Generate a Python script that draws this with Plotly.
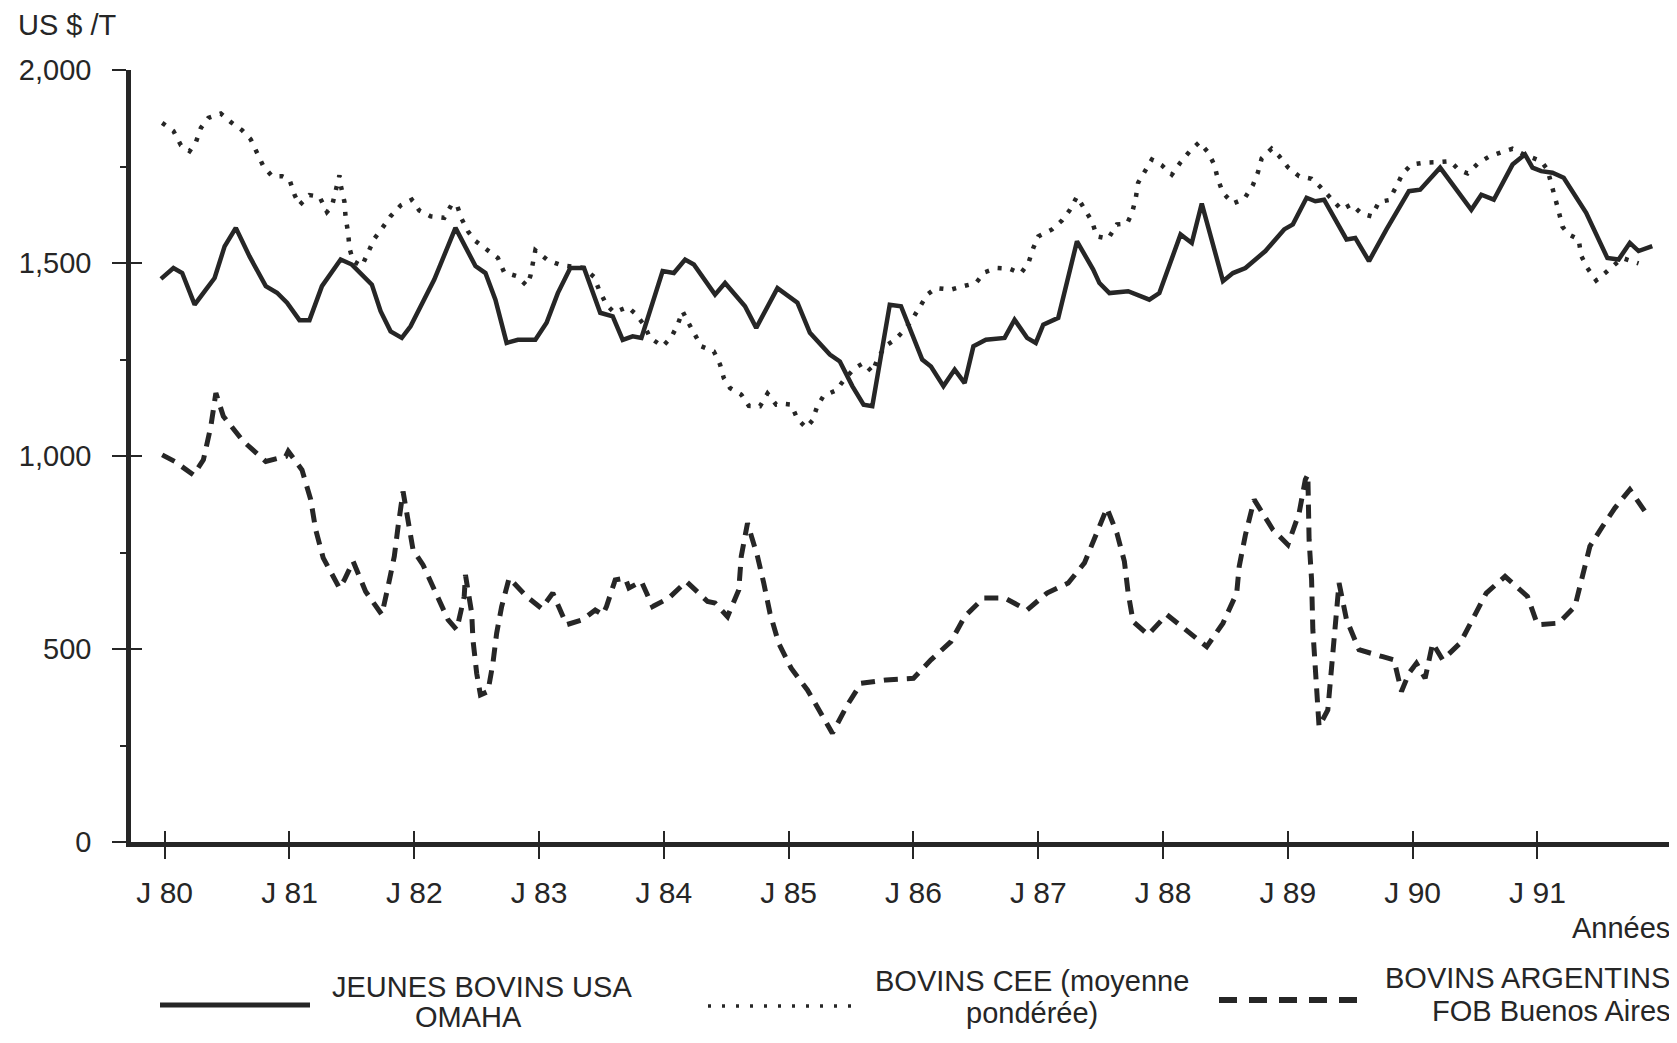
import plotly.graph_objects as go

# Jeunes bovins USA (Omaha) - solid line
usa_years = [79.97, 80.07, 80.14, 80.24, 80.33, 80.40, 80.48, 80.57, 80.68, 80.81, 80.90, 80.98,
             81.08, 81.16, 81.26, 81.41, 81.50, 81.57, 81.66, 81.73, 81.81, 81.90, 81.97, 82.16,
             82.33, 82.49, 82.57, 82.65, 82.74, 82.83, 82.97, 83.06, 83.15, 83.25, 83.36, 83.49,
             83.59, 83.67, 83.75, 83.82, 83.99, 84.08, 84.17, 84.24, 84.41, 84.49, 84.65, 84.74,
             84.91, 85.07, 85.17, 85.33, 85.41, 85.51, 85.60, 85.67, 85.81, 85.90, 86.07, 86.14,
             86.24, 86.33, 86.41, 86.48, 86.58, 86.73, 86.81, 86.91, 86.98, 87.04, 87.16, 87.31,
             87.44, 87.49, 87.57, 87.72, 87.89, 87.97, 88.14, 88.23, 88.31, 88.48, 88.56, 88.66,
             88.82, 88.97, 89.04, 89.15, 89.22, 89.29, 89.47, 89.54, 89.65, 89.79, 89.97, 90.06,
             90.22, 90.47, 90.55, 90.65, 90.80, 90.90, 90.96, 91.03, 91.12, 91.21, 91.39, 91.56,
             91.65, 91.74, 91.81, 91.92]
usa_values = [1459, 1487, 1474, 1392, 1431, 1461, 1543, 1591, 1517, 1440, 1423, 1397,
              1352, 1352, 1440, 1509, 1496, 1474, 1444, 1375, 1323, 1306, 1336, 1457,
              1591, 1492, 1474, 1405, 1293, 1301, 1301, 1345, 1422, 1487, 1487, 1371,
              1362, 1301, 1310, 1306, 1479, 1474, 1509, 1496, 1418, 1448, 1388, 1332,
              1435, 1397, 1319, 1263, 1245, 1181, 1133, 1129, 1392, 1388, 1250, 1232,
              1181, 1224, 1189, 1284, 1301, 1306, 1353, 1306, 1293, 1340, 1358, 1556,
              1483, 1448, 1422, 1427, 1405, 1422, 1574, 1552, 1654, 1453, 1474, 1487,
              1531, 1587, 1600, 1669, 1660, 1664, 1561, 1565, 1505, 1587, 1686, 1690,
              1747, 1638, 1677, 1664, 1755, 1781, 1747, 1738, 1734, 1721, 1630, 1513,
              1509, 1552, 1531, 1544]

# Bovins CEE (moyenne ponderee) - dotted line
cee_years = [79.98, 80.07, 80.13, 80.20, 80.25, 80.29, 80.35, 80.45, 80.53, 80.62, 80.69, 80.74,
             80.79, 80.86, 80.94, 81.00, 81.04, 81.08, 81.16, 81.24, 81.30, 81.34, 81.37, 81.40,
             81.41, 81.44, 81.45, 81.47, 81.48, 81.51, 81.58, 81.63, 81.68, 81.74, 81.81, 81.89,
             81.98, 82.04, 82.13, 82.24, 82.30, 82.34, 82.38, 82.43, 82.49, 82.58, 82.67, 82.72,
             82.82, 82.90, 82.93, 82.97, 83.07, 83.18, 83.36, 83.44, 83.48, 83.54, 83.60, 83.71,
             83.77, 83.84, 83.89, 83.99, 84.06, 84.11, 84.15, 84.19, 84.24, 84.30, 84.40, 84.45,
             84.48, 84.53, 84.62, 84.68, 84.77, 84.83, 84.90, 84.96, 85.02, 85.07, 85.14, 85.19,
             85.23, 85.28, 85.38, 85.45, 85.53, 85.60, 85.67, 85.71, 85.77, 85.85, 85.93, 85.98,
             86.05, 86.11, 86.18, 86.30, 86.40, 86.50, 86.57, 86.67, 86.77, 86.86, 86.92, 86.96,
             87.00, 87.11, 87.19, 87.25, 87.31, 87.38, 87.43, 87.47, 87.56, 87.63, 87.71, 87.75,
             87.78, 87.80, 87.86, 87.91, 87.99, 88.07, 88.14, 88.22, 88.29, 88.36, 88.41, 88.44,
             88.48, 88.56, 88.65, 88.72, 88.76, 88.79, 88.87, 88.93, 89.00, 89.09, 89.19, 89.26,
             89.43, 89.51, 89.59, 89.67, 89.73, 89.81, 89.87, 89.92, 89.99, 90.09, 90.19, 90.30,
             90.37, 90.44, 90.53, 90.61, 90.71, 90.80, 90.89, 91.03, 91.08, 91.11, 91.14, 91.17,
             91.20, 91.25, 91.33, 91.35, 91.40, 91.47, 91.56, 91.68, 91.81]
cee_values = [1863, 1842, 1805, 1790, 1813, 1850, 1876, 1887, 1865, 1844, 1820, 1786,
              1751, 1725, 1725, 1716, 1677, 1650, 1676, 1672, 1632, 1647, 1686, 1727,
              1702, 1659, 1617, 1578, 1539, 1505, 1492, 1530, 1563, 1589, 1621, 1649,
              1664, 1636, 1621, 1617, 1652, 1652, 1614, 1582, 1557, 1535, 1513, 1476,
              1466, 1442, 1466, 1533, 1507, 1494, 1487, 1464, 1431, 1392, 1372, 1386,
              1369, 1340, 1306, 1284, 1308, 1340, 1375, 1349, 1317, 1284, 1271, 1237,
              1202, 1176, 1159, 1130, 1129, 1162, 1133, 1135, 1133, 1096, 1073, 1092,
              1130, 1156, 1170, 1200, 1228, 1241, 1217, 1250, 1284, 1301, 1327, 1349,
              1386, 1418, 1435, 1431, 1440, 1448, 1476, 1487, 1485, 1473, 1499, 1539,
              1569, 1587, 1610, 1636, 1672, 1637, 1608, 1569, 1563, 1600, 1602, 1628,
              1666, 1708, 1741, 1768, 1753, 1729, 1761, 1792, 1813, 1787, 1755, 1716,
              1682, 1654, 1666, 1702, 1735, 1771, 1796, 1777, 1748, 1725, 1718, 1697,
              1638, 1652, 1628, 1621, 1658, 1663, 1699, 1732, 1755, 1760, 1761, 1764,
              1741, 1732, 1760, 1775, 1787, 1796, 1781, 1764, 1742, 1708, 1666, 1634,
              1594, 1574, 1561, 1519, 1487, 1455, 1479, 1513, 1499]

# Bovins argentins FOB Buenos Aires - dashed line
arg_years = [79.98, 80.08, 80.23, 80.31, 80.37, 80.41, 80.47, 80.63, 80.81, 80.97, 80.99, 81.10,
             81.17, 81.21, 81.27, 81.40, 81.44, 81.51, 81.61, 81.74, 81.79, 81.84, 81.87, 81.91,
             81.94, 81.99, 82.07, 82.17, 82.27, 82.34, 82.40, 82.41, 82.46, 82.47, 82.50, 82.53,
             82.59, 82.63, 82.66, 82.70, 82.76, 82.90, 83.02, 83.11, 83.22, 83.35, 83.45, 83.51,
             83.54, 83.61, 83.69, 83.72, 83.82, 83.91, 84.04, 84.18, 84.35, 84.41, 84.51, 84.60,
             84.62, 84.67, 84.75, 84.80, 84.85, 84.92, 85.02, 85.15, 85.28, 85.35, 85.47, 85.58,
             85.78, 86.00, 86.14, 86.30, 86.41, 86.56, 86.73, 86.91, 87.07, 87.24, 87.37, 87.47,
             87.55, 87.63, 87.69, 87.72, 87.76, 87.88, 88.03, 88.20, 88.35, 88.48, 88.59, 88.61,
             88.66, 88.73, 88.88, 89.00, 89.09, 89.14, 89.16, 89.17, 89.19, 89.20, 89.22, 89.23,
             89.25, 89.32, 89.35, 89.38, 89.41, 89.47, 89.57, 89.76, 89.85, 89.91, 89.97, 90.03,
             90.10, 90.16, 90.24, 90.38, 90.49, 90.59, 90.74, 90.92, 91.00, 91.17, 91.30, 91.36,
             91.42, 91.52, 91.62, 91.74, 91.89]
arg_values = [1003, 986, 951, 990, 1077, 1163, 1103, 1038, 986, 999, 1012, 964,
              887, 809, 736, 658, 679, 727, 649, 589, 662, 740, 817, 908,
              852, 757, 718, 645, 576, 550, 636, 692, 593, 524, 437, 381,
              390, 463, 541, 610, 684, 636, 605, 645, 563, 576, 601, 589,
              610, 679, 684, 658, 675, 610, 632, 675, 623, 619, 584, 653,
              740, 826, 740, 671, 593, 515, 450, 394, 325, 282, 355, 411,
              420, 424, 472, 519, 584, 632, 632, 601, 645, 671, 723, 800,
              865, 800, 727, 645, 571, 537, 589, 545, 506, 567, 645, 714,
              796, 887, 809, 770, 852, 939, 952, 783, 679, 550, 463, 377,
              299, 342, 455, 576, 671, 576, 498, 480, 472, 390, 437, 463,
              424, 515, 472, 515, 584, 645, 688, 636, 563, 567, 610, 684,
              766, 817, 865, 913, 843]

tick_years = [80, 81, 82, 83, 84, 85, 86, 87, 88, 89, 90, 91]
tick_labels = ["J 80", "J 81", "J 82", "J 83", "J 84", "J 85", "J 86", "J 87", "J 88", "J 89", "J 90", "J 91"]
y_ticks = [0, 500, 1000, 1500, 2000]
y_labels = ["0", "500", "1,000", "1,500", "2,000"]

INK = "#262626"
FONT = "Liberation Sans, Arial, sans-serif"
OFF = 8  # the page body adds an 8px margin on every side
W, H = 1677 - OFF, 1043 - 2 * OFF
# plot area in page pixels: left 131, right 1677, top 70, bottom 842
L, R, T, B = 131 - OFF, 0, 70 - OFF, H - (842 - OFF)
X_RANGE = [79.730, 92.118]


def px_x(px):
    # page pixel -> paper fraction
    return (px - OFF - L) / (W - L - R)


def px_y(py):
    return (H - B - (py - OFF)) / (H - T - B)


fig = go.Figure()
fig.add_trace(go.Scatter(x=usa_years, y=usa_values, mode="lines",
                         line=dict(color=INK, width=4.5), showlegend=False))
fig.add_trace(go.Scatter(x=cee_years, y=cee_values, mode="lines",
                         line=dict(color=INK, width=4.5, dash="4px,9px"), showlegend=False))
fig.add_trace(go.Scatter(x=arg_years, y=arg_values, mode="lines",
                         line=dict(color=INK, width=5, dash="14px,9px"), showlegend=False))
# empty trace so the overlay axes (ticks crossing the axis lines) are drawn
fig.add_trace(go.Scatter(x=[None], y=[None], xaxis="x2", yaxis="y2",
                         showlegend=False, hoverinfo="skip"))

fig.update_layout(
    width=W, height=H,
    margin=dict(l=L, r=R, t=T, b=B),
    paper_bgcolor="white", plot_bgcolor="white",
    font=dict(family=FONT, size=29, color=INK),
    xaxis=dict(range=X_RANGE, tickvals=tick_years, ticktext=tick_labels, automargin=False,
               showline=True, linewidth=4.5, linecolor=INK, showgrid=False, zeroline=False,
               ticks="outside", ticklen=12, tickwidth=2, tickcolor=INK, ticklabelstandoff=8,
               tickfont=dict(size=30)),
    yaxis=dict(range=[0, 2000], tickvals=y_ticks, ticktext=y_labels, automargin=False,
               showline=True, linewidth=4.5, linecolor=INK, showgrid=False, zeroline=False,
               ticks="outside", ticklen=14, tickwidth=2, tickcolor=INK, ticklabelstandoff=15,
               tickfont=dict(size=29),
               minor=dict(tickvals=[250, 750, 1250, 1750], ticks="outside", ticklen=6,
                          tickwidth=1.5, tickcolor=INK)),
    xaxis2=dict(range=X_RANGE, overlaying="x", anchor="y2", tickvals=tick_years,
                showticklabels=False, showline=False, showgrid=False, zeroline=False,
                ticks="inside", ticklen=11, tickwidth=2, tickcolor=INK),
    yaxis2=dict(range=[0, 2000], overlaying="y", anchor="x2", tickvals=[500, 1000, 1500],
                showticklabels=False, showline=False, showgrid=False, zeroline=False,
                ticks="inside", ticklen=11, tickwidth=2, tickcolor=INK),
)

# legend samples drawn under the chart
fig.add_shape(type="line", xref="paper", yref="paper", x0=px_x(160), x1=px_x(310),
              y0=px_y(1005), y1=px_y(1005), line=dict(color=INK, width=5))
fig.add_shape(type="line", xref="paper", yref="paper", x0=px_x(708), x1=px_x(852),
              y0=px_y(1006), y1=px_y(1006), line=dict(color=INK, width=3.5, dash="3px,11px"))
fig.add_shape(type="line", xref="paper", yref="paper", x0=px_x(1219), x1=px_x(1357),
              y0=px_y(1000), y1=px_y(1000), line=dict(color=INK, width=6, dash="18px,12px"))

# legend texts sit a little higher than in the scan so that none is clipped
texts = [
    ("US $ /T", 16, 25, "left"),
    ("Années", 1672, 928, "right"),
    ("JEUNES BOVINS USA", 482, 987, "center"),
    ("OMAHA", 468, 1017, "center"),
    ("BOVINS CEE (moyenne", 1032, 981, "center"),
    ("pondérée)", 1032, 1013, "center"),
    ("BOVINS ARGENTINS", 1672, 978, "right"),
    ("FOB Buenos Aires", 1551, 1011, "center"),
]
for text, x, y, anchor in texts:
    fig.add_annotation(text=text, xref="paper", yref="paper", x=px_x(x), y=px_y(y),
                       xanchor=anchor, yanchor="middle", showarrow=False,
                       font=dict(family=FONT, size=29, color=INK))

fig.write_html("out.html")
